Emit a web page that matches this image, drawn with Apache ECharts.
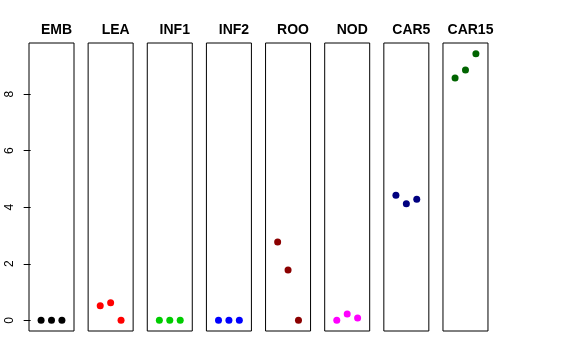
<!DOCTYPE html>
<html><head><meta charset="utf-8">
<script src="https://cdn.jsdelivr.net/npm/echarts@6/dist/echarts.min.js"></script>
<style>html,body{margin:0;padding:0;background:#fff}#c{width:576px;height:360px}</style>
</head><body><div id="c"></div>
<script>
var panels = ["EMB","LEA","INF1","INF2","ROO","NOD","CAR5","CAR15"];
var colors = ["#000000","#ff0000","#00cd00","#0000ff","#8b0000","#ff00ff","#000080","#006400"];
var EMB = [0, 0, 0];
var LEA = [0.52, 0.62, 0];
var INF1 = [0, 0, 0];
var INF2 = [0, 0, 0];
var ROO = [2.77, 1.78, 0];
var NOD = [0, 0.22, 0.08];
var CAR5 = [4.42, 4.12, 4.28];
var CAR15 = [8.57, 8.85, 9.43];
var values = [EMB, LEA, INF1, INF2, ROO, NOD, CAR5, CAR15];
var yTicks = [0, 2, 4, 6, 8];

(function(){
var chart = echarts.init(document.getElementById('c'), null, {renderer: 'canvas'});
var left0 = 29, step = 59.14, pw = 45, ptop = 43, ph = 288;
var grids = [], xAxes = [], yAxes = [], series = [], titles = [];
panels.forEach(function(name, i){
  var L = left0 + step * i;
  grids.push({left: L, top: ptop, width: pw, height: ph, show: true, borderColor: '#000', borderWidth: 1});
  xAxes.push({type: 'value', gridIndex: i, min: -0.16, max: 4.16, show: false});
  if (i === 0) {
    yAxes.push({type: 'value', gridIndex: i, min: -0.377, max: 9.807,
      splitLine: {show: false}, axisLine: {show: false},
      axisTick: {show: true, length: 7, customValues: yTicks, lineStyle: {color: '#000'}},
      axisLabel: {show: true, customValues: yTicks, rotate: 90, margin: 13, color: '#000', fontSize: 12, fontFamily: 'Liberation Sans'}
    });
  } else {
    yAxes.push({type: 'value', gridIndex: i, min: -0.377, max: 9.807, show: false, splitLine: {show: false}});
  }
  series.push({type: 'scatter', xAxisIndex: i, yAxisIndex: i, symbol: 'circle', symbolSize: 7,
    itemStyle: {color: colors[i], opacity: 1},
    data: values[i].map(function(v, j){ return [j + 1, v]; })});
  titles.push({text: name, left: L + pw / 2, top: 18, textAlign: 'center',
    textStyle: {fontFamily: 'Liberation Sans', fontWeight: 'bold', fontSize: 14, color: '#000'}});
});
chart.setOption({
  animation: false,
  title: titles,
  grid: grids,
  xAxis: xAxes,
  yAxis: yAxes,
  series: series
});
})();
</script></body></html>
